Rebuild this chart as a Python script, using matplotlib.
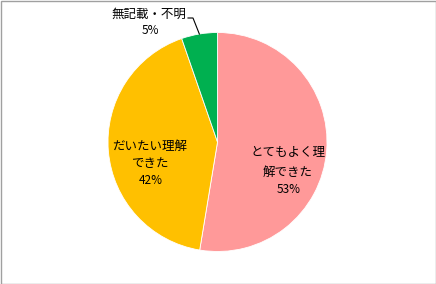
import numpy as np
import matplotlib
matplotlib.use('Agg')
import matplotlib.pyplot as plt
from matplotlib.patches import Rectangle

plt.rcParams['font.family'] = ['Noto Sans CJK JP', 'DejaVu Sans']

# data (share of answers, %)
labels = [['とてもよく理', '解できた'], ['だいたい理解', 'できた'], ['無記載・不明']]
values = [52.6, 42.1, 5.3]
colors = ['#FF9999', '#FFC000', '#00B050']

fig = plt.figure(figsize=(4.36, 2.84), dpi=100)
# pie centre ~ (217.5, 142) px, radius ~ 109.5 px
ax = fig.add_axes([108 / 436, (284 - 251.5) / 284, 219 / 436, 219 / 284])

wedges, _ = ax.pie(values, colors=colors, startangle=90, counterclock=False,
                   radius=1.0, wedgeprops=dict(edgecolor='white', linewidth=0.6))
ax.set_xlim(-1, 1)
ax.set_ylim(-1, 1)
ax.set_aspect('equal')

def px(x, y):
    # pixel position in figure -> data coords of the pie axes
    return (x - 217.5) / 109.5, (142 - y) / 109.5

name_fs = 9
pct_fs = 8.5

# label line positions in pixels: x centre, y of each text line, y of percent
label_x = [287.5, 150, 149]
line_y = [[153, 172], [146, 163.5], [14]]
pct_y = [189.5, 181, 31]

for i in range(len(values)):
    for line, ly in zip(labels[i], line_y[i]):
        tx, ty = px(label_x[i], ly)
        ax.text(tx, ty, line, ha='center', va='center', fontsize=name_fs,
                color='black')
    qx, qy = px(label_x[i] + 1, pct_y[i])
    ax.text(qx, qy, '%.0f%%' % values[i], ha='center', va='center',
            fontsize=pct_fs, color='black')

# leader line for the small slice
w = wedges[2]
mid = np.deg2rad((w.theta1 + w.theta2) / 2)
ex, ey = np.cos(mid), np.sin(mid)
sx, sy = px(188, 18)
kx, _ = px(193, 18)
ax.plot([sx, kx, ex], [sy, sy, ey], color='black', lw=0.8, clip_on=False)

# chart border
fig.patches.append(Rectangle((0.5 / 436, 0.5 / 284), 435 / 436, 283 / 284,
                             transform=fig.transFigure, fill=False,
                             edgecolor='#A0A0A0', linewidth=1))

fig.savefig('out.png', dpi=100)
